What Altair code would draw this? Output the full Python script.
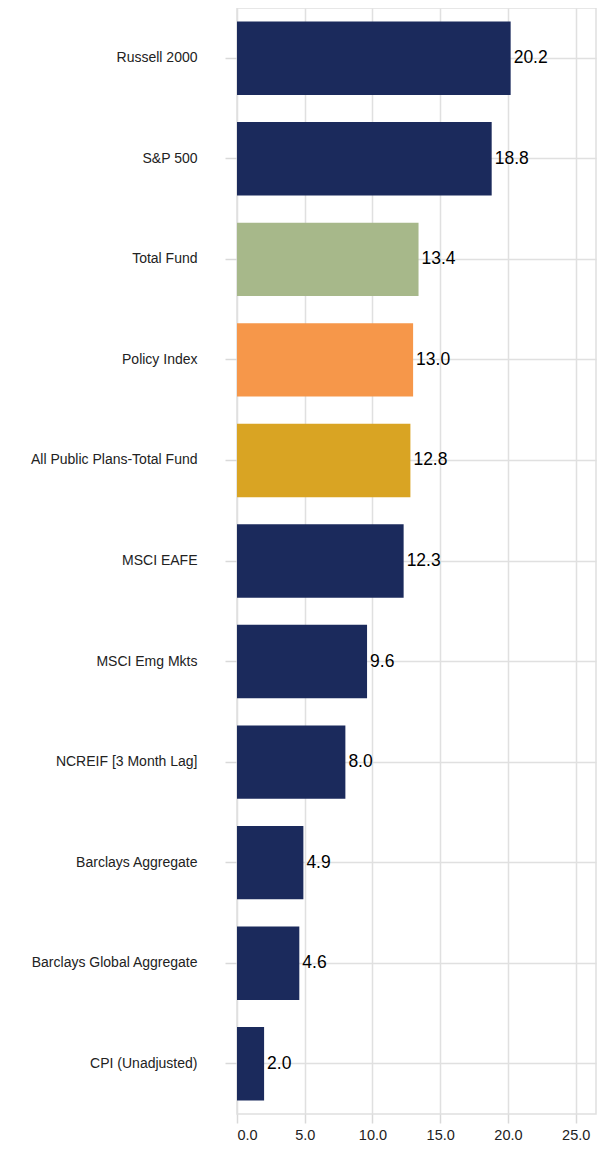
import altair as alt
import pandas as pd

categories = ["Russell 2000", "S&P 500", "Total Fund", "Policy Index",
              "All Public Plans-Total Fund", "MSCI EAFE", "MSCI Emg Mkts",
              "NCREIF [3 Month Lag]", "Barclays Aggregate",
              "Barclays Global Aggregate", "CPI (Unadjusted)"]
values = [20.2, 18.8, 13.4, 13.0, 12.8, 12.3, 9.6, 8.0, 4.9, 4.6, 2.0]
colors = ["#1B2A5C", "#1B2A5C", "#A7B88A", "#F6974A", "#D9A423",
          "#1B2A5C", "#1B2A5C", "#1B2A5C", "#1B2A5C", "#1B2A5C", "#1B2A5C"]
x_ticks = [0, 5, 10, 15, 20, 25]

df = pd.DataFrame({"cat": categories, "val": values, "color": colors})

FONT = "Liberation Sans"

y_enc = alt.Y("cat:N", sort=categories, title=None,
              scale=alt.Scale(paddingInner=0.27, paddingOuter=0.135),
              axis=alt.Axis(labelFontSize=14, labelColor="#222222", labelFont=FONT,
                            labelPadding=28, tickSize=12, tickColor="#d9d9d9", tickWidth=1.5,
                            domain=False, grid=True, gridColor="#e0e0e0", gridWidth=1.5,
                            bandPosition=0.5, labelLimit=300))
x_enc = alt.X("val:Q", title=None,
              scale=alt.Scale(domain=[0, 26.5], nice=False),
              axis=alt.Axis(values=x_ticks, format=".1f", labelFontSize=14.5, labelColor="#222222",
                            labelFont=FONT, tickSize=9, tickColor="#d9d9d9", tickWidth=1.5,
                            labelPadding=5, domain=False, grid=True, gridColor="#e0e0e0",
                            gridWidth=1.5))

bars = alt.Chart(df).mark_bar().encode(
    y=y_enc, x=x_enc, color=alt.Color("color:N", scale=None))

labels = alt.Chart(df).mark_text(align="left", baseline="middle", dx=3, fontSize=17.5,
                                 font=FONT, color="#000000").encode(
    y=alt.Y("cat:N", sort=categories), x="val:Q", text=alt.Text("val:Q", format=".1f"))

chart = (bars + labels).properties(
    width=359, height=1106,
    autosize=alt.AutoSizeParams(type="none"),
    padding={"left": 229, "top": 0, "right": 3, "bottom": 36},
).configure_view(stroke="#e0e0e0", strokeWidth=1.5)

chart.save("out.html", embed_options={"renderer": "svg", "actions": False})
